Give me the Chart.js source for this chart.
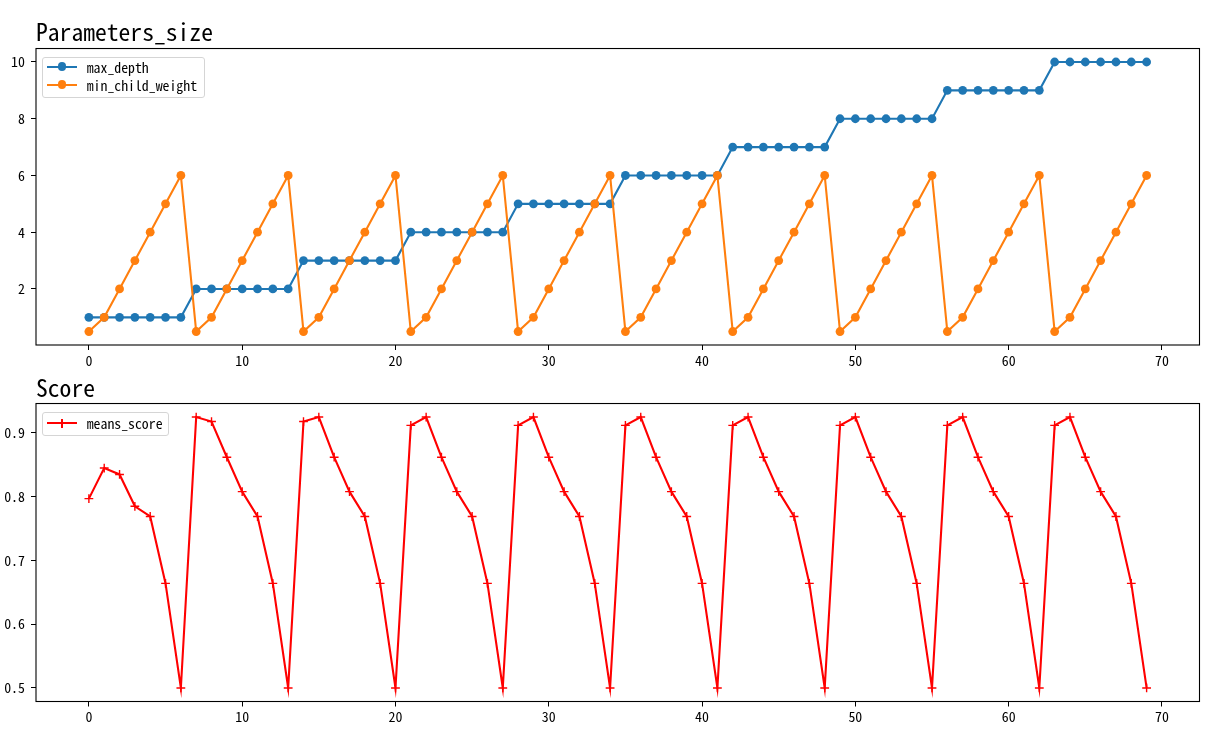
<!DOCTYPE html>
<html>
<head>
<meta charset="utf-8">
<script src="https://cdn.jsdelivr.net/npm/chart.js@4.4.1/dist/chart.umd.min.js"></script>
<style>
  body { margin: 0; background: #fff; }
  #wrap { position: relative; width: 1220px; height: 738px; overflow: hidden; }
  canvas { position: absolute; left: 0; }
  .legend {
    position: absolute;
    box-sizing: border-box;
    border: 1px solid #d5d5d5;
    border-radius: 3px;
    background: rgba(255, 255, 255, 0.8);
    font: 13.8px 'Noto Sans Mono CJK SC', 'DejaVu Sans Mono', monospace;
    color: #000;
  }
  .entry { position: absolute; left: 0; height: 18px; width: 100%; }
  .entry .ln { position: absolute; left: 4px; width: 30px; top: 8px; height: 2px; }
  .entry .dot { position: absolute; left: 14.6px; top: 4.6px; width: 8.8px; height: 8.8px; border-radius: 50%; }
  .entry .plus-h { position: absolute; left: 14.6px; top: 8.3px; width: 8.8px; height: 1.4px; }
  .entry .plus-v { position: absolute; left: 18.3px; top: 4.6px; width: 1.4px; height: 8.8px; }
  .entry .txt { position: absolute; left: 43.7px; top: 0; line-height: 18px; white-space: pre; }
</style>
</head>
<body>
<div id="wrap">
  <canvas id="params" width="1220" height="372" style="top:0"></canvas>
  <canvas id="score" width="1220" height="366" style="top:372px"></canvas>
  <div id="legendTop" class="legend" style="left:42px; top:57px; width:163px; height:41px"></div>
  <div id="legendBottom" class="legend" style="left:42px; top:411.5px; width:127px; height:24px"></div>
</div>
<script>
// Run index on the x axis.
const runIndex = [0, 1, 2, 3, 4, 5, 6, 7, 8, 9, 10, 11, 12, 13, 14, 15, 16, 17, 18, 19,
    20, 21, 22, 23, 24, 25, 26, 27, 28, 29, 30, 31, 32, 33, 34, 35, 36, 37, 38, 39,
    40, 41, 42, 43, 44, 45, 46, 47, 48, 49, 50, 51, 52, 53, 54, 55, 56, 57, 58, 59,
    60, 61, 62, 63, 64, 65, 66, 67, 68, 69];
// Parameter values tried in the grid search.
const maxDepth = [1, 1, 1, 1, 1, 1, 1, 2, 2, 2, 2, 2, 2, 2, 3, 3, 3, 3, 3, 3, 3,
    4, 4, 4, 4, 4, 4, 4, 5, 5, 5, 5, 5, 5, 5, 6, 6, 6, 6, 6, 6, 6,
    7, 7, 7, 7, 7, 7, 7, 8, 8, 8, 8, 8, 8, 8, 9, 9, 9, 9, 9, 9, 9,
    10, 10, 10, 10, 10, 10, 10];
const minChildWeight = [0.5, 1, 2, 3, 4, 5, 6, 0.5, 1, 2, 3, 4, 5, 6, 0.5, 1, 2, 3, 4, 5, 6,
    0.5, 1, 2, 3, 4, 5, 6, 0.5, 1, 2, 3, 4, 5, 6, 0.5, 1, 2, 3, 4, 5, 6,
    0.5, 1, 2, 3, 4, 5, 6, 0.5, 1, 2, 3, 4, 5, 6, 0.5, 1, 2, 3, 4, 5, 6,
    0.5, 1, 2, 3, 4, 5, 6];
// Mean cross validation score for every run.
const meansScore = [0.797, 0.845, 0.835, 0.785, 0.769, 0.664, 0.5,
    0.925, 0.918, 0.862, 0.808, 0.769, 0.664, 0.5,
    0.918, 0.925, 0.862, 0.808, 0.769, 0.664, 0.5,
    0.912, 0.925, 0.862, 0.808, 0.769, 0.664, 0.5,
    0.912, 0.925, 0.862, 0.808, 0.769, 0.664, 0.5,
    0.912, 0.925, 0.862, 0.808, 0.769, 0.664, 0.5,
    0.912, 0.925, 0.862, 0.808, 0.769, 0.664, 0.5,
    0.912, 0.925, 0.862, 0.808, 0.769, 0.664, 0.5,
    0.912, 0.925, 0.862, 0.808, 0.769, 0.664, 0.5,
    0.912, 0.925, 0.862, 0.808, 0.769, 0.664, 0.5];
// Tick values and their labels.
const xTicks = [0, 10, 20, 30, 40, 50, 60, 70];
const paramTicks = [2, 4, 6, 8, 10];
const scoreTicks = [0.5, 0.6, 0.7, 0.8, 0.9];
const scoreTickLabels = ['0.5', '0.6', '0.7', '0.8', '0.9'];

const MONO = "'Noto Sans Mono CJK SC', 'DejaVu Sans Mono', monospace";

// Draws the four spines round the plot area, like matplotlib does.
const framePlugin = {
    id: 'frame',
    afterDraw( chart ) {
        const a = chart.chartArea;
        const ctx = chart.ctx;
        ctx.save();
        ctx.strokeStyle = '#000';
        ctx.lineWidth = 1.1;
        ctx.strokeRect( a.left, a.top, a.right - a.left, a.bottom - a.top );
        ctx.restore();
    }
};

/**
 * Builds a linear axis with fixed ticks.
 */
function axis( min, max, ticks, labels, isX ) {
    return {
        type: 'linear',
        min: min,
        max: max,
        border: { display: false },
        grid: { drawOnChartArea: false, drawTicks: true, tickLength: 5, color: '#000', lineWidth: 1 },
        ticks: {
            color: '#000',
            font: { family: MONO, size: 13.9 },
            padding: isX ? 2 : 6,
            maxRotation: 0,
            callback: function( v ) {
                const i = ticks.indexOf( v );
                return labels && i >= 0 ? labels[i] : String( v );
            }
        },
        afterBuildTicks: function( scale ) {
            scale.ticks = ticks.map( v => ( { value: v } ) );
        },
        afterFit: function( scale ) {
            if ( isX ) { scale.height = 27; } else { scale.width = 36; }
        }
    };
}

/**
 * Creates one of the two line charts.
 */
function createChart( canvas, datasets, title, titlePad, yMin, yMax, yTicks, yLabels, bottomPad ) {
    return new Chart( canvas, {
        type: 'line',
        data: { labels: runIndex, datasets: datasets },
        options: {
            responsive: false,
            animation: false,
            devicePixelRatio: 1,
            layout: { padding: { left: 0, right: 20.5, top: 0, bottom: bottomPad } },
            plugins: {
                legend: { display: false },
                tooltip: { enabled: false },
                title: {
                    display: true,
                    text: title,
                    align: 'start',
                    fullSize: false,
                    color: '#000',
                    font: { family: MONO, size: 23.6, weight: 'normal' },
                    padding: titlePad
                }
            },
            scales: {
                x: axis( -3.45, 72.45, xTicks, null, true ),
                y: axis( yMin, yMax, yTicks, yLabels, false )
            }
        },
        plugins: [framePlugin]
    } );
}

const paramSets = [
    {
        label: 'max_depth', data: maxDepth, borderColor: '#1f77b4', backgroundColor: '#1f77b4',
        borderWidth: 2.1, pointRadius: 4.4, pointBorderWidth: 0, pointStyle: 'circle', tension: 0, order: 2
    },
    {
        label: 'min_child_weight', data: minChildWeight, borderColor: '#ff7f0e', backgroundColor: '#ff7f0e',
        borderWidth: 2.1, pointRadius: 4.4, pointBorderWidth: 0, pointStyle: 'circle', tension: 0, order: 1
    }
];
const scoreSets = [
    {
        label: 'means_score', data: meansScore, borderColor: '#ff0000', backgroundColor: '#ff0000',
        borderWidth: 2.1, pointRadius: 4.4, pointBorderWidth: 1.4, pointStyle: 'cross', tension: 0
    }
];

createChart( document.getElementById( 'params' ), paramSets, 'Parameters_size',
    { top: 17.8, bottom: 2.4 }, 0.025, 10.475, paramTicks, null, 0 );
createChart( document.getElementById( 'score' ), scoreSets, 'Score',
    { top: 1.8, bottom: 1.4 }, 0.47875, 0.94625, scoreTicks, scoreTickLabels, 9.5 );

/**
 * Fills an HTML legend box from the datasets.
 */
function buildLegend( box, datasets, firstCenter ) {
    datasets.forEach( ( ds, i ) => {
        const row = document.createElement( 'div' );
        row.className = 'entry';
        row.style.top = ( firstCenter + i * 18 - 9 ) + 'px';
        let marks = '<div class="ln" style="background:' + ds.borderColor + '"></div>';
        if ( ds.pointStyle === 'circle' ) {
            marks += '<div class="dot" style="background:' + ds.borderColor + '"></div>';
        } else {
            marks += '<div class="plus-h" style="background:' + ds.borderColor + '"></div>' +
                     '<div class="plus-v" style="background:' + ds.borderColor + '"></div>';
        }
        row.innerHTML = marks + '<div class="txt">' + ds.label + '</div>';
        box.appendChild( row );
    } );
}
buildLegend( document.getElementById( 'legendTop' ), paramSets, 8.5 );
buildLegend( document.getElementById( 'legendBottom' ), scoreSets, 10.8 );
</script>
</body>
</html>
